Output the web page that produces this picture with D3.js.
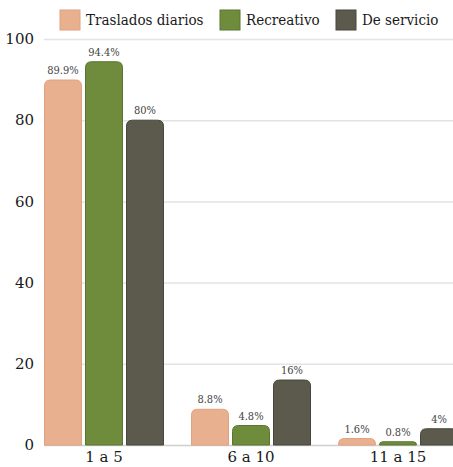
<!DOCTYPE html>
<html>
<head>
<meta charset="utf-8">
<script src="https://cdn.jsdelivr.net/npm/d3@7"></script>
<style>
	body { margin: 0; background: #fff; }
</style>
</head>
<body>
<div id="chart"></div>
<script>
// datos
var categories = ["1 a 5", "6 a 10", "11 a 15"];
var seriesNames = ["Traslados diarios", "Recreativo", "De servicio"];
var traslados = [89.9, 8.8, 1.6];
var recreativo = [94.4, 4.8, 0.8];
var servicio = [80, 16, 4];
var valueLabels = [
	["89.9%", "8.8%", "1.6%"],
	["94.4%", "4.8%", "0.8%"],
	["80%", "16%", "4%"]
];
var yTicks = [0, 20, 40, 60, 80, 100];
var colors = ["#e9b08f", "#6f8c3c", "#5b5a4c"];
var strokes = ["#e0a27f", "#5a7530", "#46463a"];
var FONT = "DejaVu Serif";
var FONT_COND = "'DejaVu Serif Condensed', 'DejaVu Serif'";

var width = 453, height = 467;
var margin = { top: 39, right: 0, bottom: 22, left: 44 };

var svg = d3.select("#chart").append("svg")
	.attr("width", width)
	.attr("height", height)
	.style("display", "block")
	.style("font-family", FONT);

var series = [traslados, recreativo, servicio];

var x0 = d3.scaleBand()
	.domain(categories)
	.range([margin.left, margin.left + 414])
	.paddingInner(27 / 147)
	.paddingOuter(0);

var x1 = d3.scaleBand()
	.domain(d3.range(series.length))
	.range([0, x0.bandwidth()])
	.paddingInner(3 / 41);

var y = d3.scaleLinear()
	.domain([0, 100])
	.range([height - margin.bottom, margin.top]);

// rejilla
svg.append("g")
	.selectAll("line")
	.data(yTicks)
	.enter()
	.append("line")
	.attr("x1", margin.left)
	.attr("x2", width)
	.attr("y1", function(d) { return y(d) + 0.5; })
	.attr("y2", function(d) { return y(d) + 0.5; })
	.attr("stroke", function(d) { return d === 0 ? "#cfcfcf" : "#e3e3e3"; })
	.attr("stroke-width", 1.5);

// eje y
svg.append("g")
	.selectAll("text")
	.data(yTicks)
	.enter()
	.append("text")
	.attr("x", 34)
	.attr("y", function(d) { return y(d); })
	.attr("dy", "0.35em")
	.attr("text-anchor", "end")
	.attr("font-size", 15)
	.attr("fill", "#1a1a1a")
	.text(function(d) { return d; });

// barras con esquinas superiores redondeadas
function barPath(x, yTop, w, h, r) {
	r = Math.min(r, h, w / 2);
	return "M" + x + "," + (yTop + h) +
		"V" + (yTop + r) +
		"Q" + x + "," + yTop + " " + (x + r) + "," + yTop +
		"H" + (x + w - r) +
		"Q" + (x + w) + "," + yTop + " " + (x + w) + "," + (yTop + r) +
		"V" + (yTop + h) + "Z";
}

var groups = svg.append("g")
	.selectAll("g")
	.data(categories)
	.enter()
	.append("g")
	.attr("transform", function(d) { return "translate(" + x0(d) + ",0)"; });

groups.each(function(cat, ci) {
	var g = d3.select(this);
	series.forEach(function(vals, si) {
		var v = vals[ci];
		var bx = x1(si);
		var by = y(v);
		var bh = y(0) - by;
		g.append("path")
			.attr("d", barPath(bx + 0.5, by, x1.bandwidth() - 1, bh, 6))
			.attr("fill", colors[si])
			.attr("stroke", strokes[si])
			.attr("stroke-width", 1);
		g.append("text")
			.attr("x", bx + x1.bandwidth() / 2)
			.attr("y", by - 6)
			.attr("text-anchor", "middle")
			.style("font-family", FONT_COND)
			.attr("font-size", 11)
			.attr("fill", "#444")
			.text(valueLabels[si][ci]);
	});
});

// eje x
svg.append("g")
	.selectAll("text")
	.data(categories)
	.enter()
	.append("text")
	.attr("x", function(d) { return x0(d) + x0.bandwidth() / 2; })
	.attr("y", y(0) + 17)
	.attr("text-anchor", "middle")
	.attr("font-size", 15)
	.attr("fill", "#1a1a1a")
	.text(function(d) { return d; });

// leyenda
var legendX = [60, 220, 336];
var legend = svg.append("g")
	.selectAll("g")
	.data(seriesNames)
	.enter()
	.append("g")
	.attr("transform", function(d, i) { return "translate(" + legendX[i] + ",10)"; });

legend.append("rect")
	.attr("width", 20)
	.attr("height", 20)
	.attr("fill", function(d, i) { return colors[i]; })
	.attr("stroke", function(d, i) { return strokes[i]; });

legend.append("text")
	.attr("x", 26)
	.attr("y", 10)
	.attr("dy", "0.35em")
	.style("font-family", FONT_COND)
	.attr("font-size", 15)
	.attr("fill", "#1a1a1a")
	.text(function(d) { return d; });
</script>
</body>
</html>
